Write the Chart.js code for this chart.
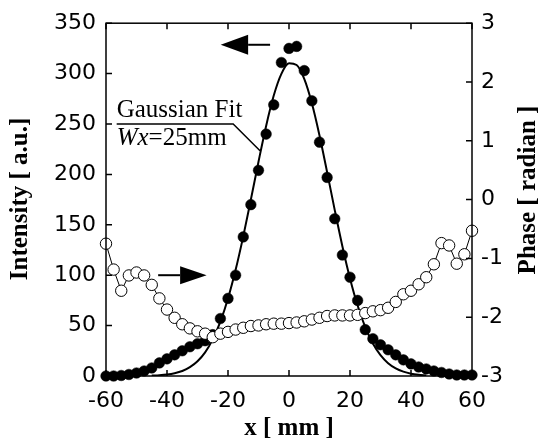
<!DOCTYPE html>
<html><head><meta charset="utf-8">
<script src="https://cdn.jsdelivr.net/npm/chart.js@4"></script>
<style>html,body{margin:0;padding:0;background:#fff;}canvas{display:block;}</style>
</head><body>
<canvas id="c" width="547" height="446"></canvas>
<script>
// ---- data ----
const xPositions = [-60,-57.5,-55,-52.5,-50,-47.5,-45,-42.5,-40,-37.5,-35,-32.5,-30,-27.5,-25,-22.5,-20,-17.5,-15,-12.5,-10,-7.5,-5,-2.5,0,2.5,5,7.5,10,12.5,15,17.5,20,22.5,25,27.5,30,32.5,35,37.5,40,42.5,45,47.5,50,52.5,55,57.5,60];
const intensity = [0,0,0.5,1.5,3,5,8,13,17,21,25,29,32,35,41,57,77,100,138,170,204,240,269,311,325,327,303,273,232,197,156,120,98,75,46,37,31,26,21,16,12,9,7,5,3.5,2,1,1,1];
const phase = [-0.75,-1.19,-1.55,-1.29,-1.24,-1.29,-1.45,-1.68,-1.87,-2.01,-2.12,-2.19,-2.24,-2.28,-2.34,-2.28,-2.25,-2.21,-2.18,-2.15,-2.14,-2.12,-2.11,-2.11,-2.10,-2.09,-2.07,-2.04,-2.01,-1.98,-1.97,-1.97,-1.97,-1.96,-1.93,-1.90,-1.88,-1.84,-1.74,-1.61,-1.55,-1.44,-1.32,-1.10,-0.74,-0.78,-1.09,-0.93,-0.53];
const fitX = [-45,-42.5,-40,-37.5,-35,-32.5,-30,-27.5,-25,-22.5,-20,-17.5,-15,-12.5,-10,-7.5,-5,-2.5,0,2.5,5,7.5,10,12.5,15,17.5,20,22.5,25,27.5,30,32.5,35,37.5,40,42.5,45];
const fitIntensity = [0.4,0.8,1.5,2.8,5.0,8.8,14.7,23.5,36.3,53.9,76.9,105.3,138.5,175.1,212.6,248.1,278.2,299.7,310.2,308.5,294.7,270.5,238.6,202.2,164.6,128.8,96.8,69.9,48.5,32.3,20.7,12.7,7.5,4.3,2.3,1.2,0.6];
const xTicks = [-60,-40,-20,0,20,40,60];
const intensityTicks = [0,50,100,150,200,250,300,350];
const phaseTicks = [-3,-2,-1,0,1,2,3];
const xTitle = 'x [ mm ]';
const leftTitle = 'Intensity [ a.u.]';
const rightTitle = 'Phase [ radian ]';

const TICK_FONT = {family:'DejaVu Sans', size:22};
const SERIF = '"Liberation Serif", "Times New Roman", serif';

const decor = {
  id:'decor',
  afterDatasetsDraw(chart){
    const ctx = chart.ctx, a = chart.chartArea;
    const xs = chart.scales.x, ys = chart.scales.y, y1 = chart.scales.y1;
    ctx.save();
    ctx.strokeStyle = '#000'; ctx.lineWidth = 1.5;
    ctx.strokeRect(a.left, a.top, a.right - a.left, a.bottom - a.top);
    const L = 6;
    ctx.beginPath();
    xTicks.forEach(v=>{const p = xs.getPixelForValue(v);
      ctx.moveTo(p,a.bottom); ctx.lineTo(p,a.bottom-L);
      ctx.moveTo(p,a.top); ctx.lineTo(p,a.top+L);});
    intensityTicks.forEach(v=>{const p = ys.getPixelForValue(v);
      ctx.moveTo(a.left,p); ctx.lineTo(a.left+L,p);});
    phaseTicks.forEach(v=>{const p = y1.getPixelForValue(v);
      ctx.moveTo(a.right,p); ctx.lineTo(a.right-L,p);});
    ctx.stroke();

    // annotation: Gaussian fit label with leader line
    const X = v=>xs.getPixelForValue(v), Y = v=>ys.getPixelForValue(v);
    ctx.lineWidth = 1.5;
    ctx.beginPath();
    ctx.moveTo(X(-56.5), Y(250)); ctx.lineTo(X(-18.3), Y(250)); ctx.lineTo(X(-9.5), Y(223.5));
    ctx.stroke();
    ctx.fillStyle = '#000';
    ctx.textBaseline = 'alphabetic'; ctx.textAlign = 'left';
    ctx.font = '25px ' + SERIF;
    const tx = X(-56.5);
    ctx.fillText('Gaussian Fit', tx, Y(250) - 7);
    let cx = tx; const by = Y(250) + 21;
    ctx.font = 'italic 25px ' + SERIF;
    ctx.fillText('Wx', cx, by); cx += ctx.measureText('Wx').width;
    ctx.font = '25px ' + SERIF;
    ctx.fillText('=25mm', cx, by);

    // arrows
    function arrow(shaftEnd, headBase, tip, yv, half){
      const yp = Y(yv);
      ctx.lineWidth = 2;
      ctx.beginPath(); ctx.moveTo(X(shaftEnd), yp); ctx.lineTo(X(headBase), yp); ctx.stroke();
      ctx.beginPath(); ctx.moveTo(X(tip), yp); ctx.lineTo(X(headBase), yp - half); ctx.lineTo(X(headBase), yp + half); ctx.closePath(); ctx.fill();
    }
    arrow(-6.2, -13.4, -22.4, 328.6, 10);
    arrow(-42.9, -35.7, -27.0, 100, 9);
    ctx.restore();
  },
  afterDraw(chart){
    const ctx = chart.ctx, a = chart.chartArea;
    ctx.save();
    ctx.fillStyle = '#000';
    ctx.font = 'bold 25px ' + SERIF;
    ctx.textAlign = 'center'; ctx.textBaseline = 'middle';
    ctx.fillText(xTitle, (a.left + a.right)/2, 429);
    ctx.translate(21, 199); ctx.rotate(-Math.PI/2);
    ctx.fillText(leftTitle, 0, 0);
    ctx.setTransform(1,0,0,1,0,0);
    ctx.translate(529, 190); ctx.rotate(-Math.PI/2);
    ctx.fillText(rightTitle, 0, 0);
    ctx.restore();
  }
};

new Chart(document.getElementById('c'), {
  type:'scatter',
  data:{datasets:[
    {label:'Phase', data: xPositions.map((x,i)=>({x, y: phase[i]})), yAxisID:'y1', showLine:true,
     borderColor:'#000', borderWidth:1, pointRadius:5.7, pointBackgroundColor:'#fff', pointBorderColor:'#000', pointBorderWidth:1, order:0, clip:false},
    {label:'Gaussian Fit', data: fitX.map((x,i)=>({x, y: fitIntensity[i]})), yAxisID:'y', showLine:true,
     borderColor:'#000', borderWidth:2, pointRadius:0, cubicInterpolationMode:'monotone', order:1},
    {label:'Intensity', data: xPositions.map((x,i)=>({x, y: intensity[i]})), yAxisID:'y', showLine:false,
     pointRadius:5.3, pointBackgroundColor:'#000', pointBorderColor:'#000', pointBorderWidth:0.5, order:2, clip:false}
  ]},
  options:{
    responsive:false, animation:false, devicePixelRatio:1,
    layout:{padding:{top:21,left:0,right:0,bottom:0}},
    plugins:{legend:{display:false}, tooltip:{enabled:false}},
    scales:{
      x:{type:'linear', position:'bottom', min:-60, max:60,
         afterBuildTicks:s=>{s.ticks = xTicks.map(v=>({value:v}));},
         afterFit:s=>{s.height = 70;},
         grid:{display:false, drawTicks:false}, border:{display:false},
         ticks:{font:TICK_FONT, color:'#000', padding:12, maxRotation:0, autoSkip:false, callback:v=>String(v)}},
      y:{type:'linear', position:'left', min:0, max:350,
         afterBuildTicks:s=>{s.ticks = intensityTicks.map(v=>({value:v}));},
         afterFit:s=>{s.width = 106;},
         grid:{display:false, drawTicks:false}, border:{display:false},
         ticks:{font:TICK_FONT, color:'#000', padding:10, autoSkip:false, callback:v=>String(v)}},
      y1:{type:'linear', position:'right', min:-3, max:3,
         afterBuildTicks:s=>{s.ticks = phaseTicks.map(v=>({value:v}));},
         afterFit:s=>{s.width = 75;},
         grid:{display:false, drawTicks:false}, border:{display:false},
         ticks:{font:TICK_FONT, color:'#000', padding:9, autoSkip:false, callback:v=>String(v)}}
    }
  },
  plugins:[decor]
});
</script>
</body></html>
